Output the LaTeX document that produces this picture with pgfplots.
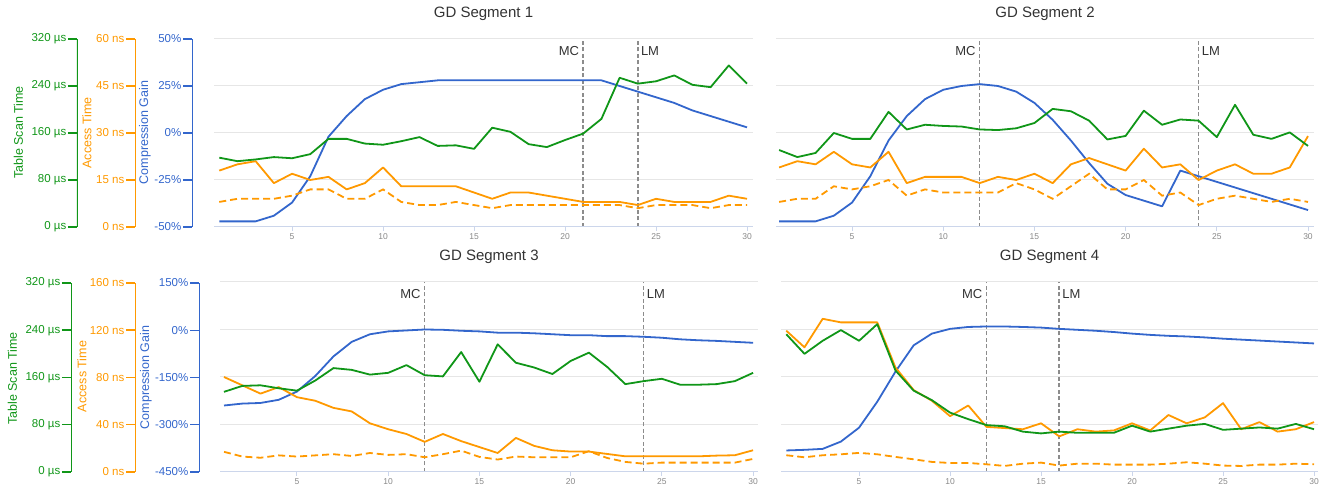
\documentclass[border=0pt]{standalone}
\usepackage{fontspec}
\setmainfont{Liberation Sans}
\usepackage{pgfplots}
\usepackage{pgfplotstable}
\pgfplotsset{compat=1.18}

\definecolor{cblue}{HTML}{3366CC}
\definecolor{corange}{HTML}{FF9900}
\definecolor{cgreen}{HTML}{109618}
\definecolor{gridc}{HTML}{E6E6E6}
\definecolor{axisc}{HTML}{CCD6EB}
\definecolor{tickc}{HTML}{888888}
\definecolor{vlinec}{HTML}{8C8C8C}
\definecolor{textc}{HTML}{333333}

% k, compression gain (%), access time (ns), access time dashed (ns), table scan time (us)
\pgfplotstableread{
k gain acc accd scan
1 -47 18 8 118
2 -47 20 9 112
3 -47 21 9 115
4 -44 14 9 119
5 -37 17 10 117
6 -23 15 12 124
7 -2 16 12 150
8 9 12 9 150
9 18 14 9 142
10 23 19 12 140
11 26 13 8 146
12 27 13 7 153
13 28 13 7 138
14 28 13 8 139
15 28 11 7 133
16 28 9 6 169
17 28 11 7 162
18 28 11 7 141
19 28 10 7 136
20 28 9 7 148
21 28 8 7 159
22 28 8 7 184
23 25 8 7 254
24 22 7 6 244
25 19 9 7 248
26 16 8 7 258
27 12 8 7 242
28 9 8 6 238
29 6 10 7 275
30 3 9 7 244
}\segA

\pgfplotstableread{
k gain acc accd scan
1 -47 19 8 131
2 -47 21 9 119
3 -47 20 9 126
4 -44 24 13 160
5 -37 20 12 150
6 -23 19 13 150
7 -4 24 15 196
8 9 14 10 166
9 18 16 12 174
10 23 16 11 172
11 25 16 11 171
12 26 14 11 166
13 25 16 11 165
14 22 15 14 168
15 16 17 12 177
16 7 14 9 201
17 -4 20 13 197
18 -16 22 17 181
19 -27 20 12 149
20 -33 18 12 155
21 -36 25 15 198
22 -39 19 10 174
23 -20 20 11 183
24 -23 15 7 181
25 -26 18 9 153
26 -29 20 10 208
27 -32 17 9 157
28 -35 17 8 150
29 -38 19 9 161
30 -41 29 8 138
}\segB

\pgfplotstableread{
k gain acc accd scan
1 -240 80 17 135
2 -234 73 13 145
3 -232 66 12 146
4 -222 71.5 14 141
5 -196 63 13 137
6 -147 60 14 154
7 -85 54 15 175
8 -39 51 13.5 172
9 -15 41 16 164
10 -6 36 14.4 167
11 -3 32 15 180
12 0 25.4 12.4 163
13 -1 32 15 161
14 -4 26 18 202
15 -6 21 12.7 152
16 -10 16 10.5 215
17 -10 28.7 13 184
18 -12 22 12.4 176
19 -15 18.3 12.4 165
20 -18 17.2 12.4 187
21 -18 17.2 17.5 201
22 -21 15.2 11.8 177
23 -21 13.2 8.5 148
24 -23 13.2 7 153
25 -26 13.2 7.9 157
26 -31 13.2 7.9 147
27 -34 13.2 7.9 147
28 -36 13.8 7.9 148
29 -39 14.1 7.9 153
30 -42 18.3 11 167
}\segC

\pgfplotstableread{
k gain acc accd scan
1 -382 119 14.1 232
2 -380 105 12.4 199
3 -377 129 14.1 221
4 -354 126 14.9 239
5 -310 126 16.1 221
6 -228 126 14.9 249
7 -133 88 12.7 171
8 -50 69 10.7 137
9 -13 60 8.5 121
10 2 47 7.6 100
11 8 56 7.6 89
12 9.5 38 6.5 79
13 9.5 37 5.1 77
14 8 36 7 68
15 6 41 7.9 65
16 2 30 5.4 68
17 -1 36 7 66
18 -4 34 7 66
19 -8 35 6.2 66
20 -13 41 6.2 78
21 -17 35 6.2 68
22 -20 48 7 73
23 -22 41 8.2 78
24 -25 46 7 81
25 -29 58 5.4 71
26 -32 36 5.1 73
27 -35 42 6.2 75
28 -38 34 6.2 73
29 -41 36 7 81
30 -44 42 6.5 72
}\segD

\pgfplotsset{
  panel/.style={scale only axis, anchor=south west},
  base/.style={panel,
    axis line style={draw=none},
    ymajorgrids, grid style={gridc, line width=1pt},
    xtick={5,10,...,30}, xtick pos=bottom, tick align=outside,
    major tick length=4pt,
    xtick style={axisc, line width=1pt},
    ytick style={draw=none}, yticklabels={},
    /pgf/number format/assume math mode=true,
    xticklabel style={font=\fontsize{8.5}{10}\selectfont, text=tickc, inner sep=2pt},
    title style={at={(0.5,1)}, anchor=base, yshift=15pt,
      font=\fontsize{15}{18}\selectfont, text=textc},
  },
  over/.style={panel, hide x axis, hide y axis},
  leftax/.style={scale only axis, anchor=south west, width=10pt,
    xmin=0, xmax=1, hide x axis, axis line style={draw=none},
    ytick pos=left, tick align=outside, major tick length=9pt,
    yticklabel style={font=\fontsize{11.5}{13}\selectfont, inner sep=1.5pt}},
  gainline/.style={cblue, line width=1.8pt, mark=none, line join=round},
  accline/.style={corange, line width=1.8pt, mark=none, line join=round},
  accdline/.style={corange, line width=1.8pt, mark=none, dash pattern=on 7pt off 4pt},
  scanline/.style={cgreen, line width=1.8pt, mark=none, line join=round},
  vline/.style={vlinec, line width=1.5pt, dash pattern=on 4pt off 2.5pt, mark=none, forget plot},
}
\tikzset{mlabel/.style={inner sep=0pt, font=\fontsize{13}{15}\selectfont, text=textc, yshift=-17pt}}

\begin{document}
\begin{tikzpicture}
\useasboundingbox (0pt,0pt) rectangle (1322pt,489pt);

% ---------- left axes, top row ----------
\begin{axis}[leftax, at={(77pt,262pt)}, height=188pt, ymin=0, ymax=320,
  ytick={0,80,160,240,320}, yticklabels={0 µs,80 µs,160 µs,240 µs,320 µs},
  ytick style={cgreen, line width=1.5pt}, yticklabel style={text=cgreen}]
\draw[cgreen, line width=1.5pt] (rel axis cs:0,0) -- (rel axis cs:0,1);
\end{axis}
\begin{axis}[leftax, at={(135pt,262pt)}, height=188pt, ymin=0, ymax=60,
  ytick={0,15,30,45,60}, yticklabels={0 ns,15 ns,30 ns,45 ns,60 ns},
  ytick style={corange, line width=1.5pt}, yticklabel style={text=corange}]
\draw[corange, line width=1.5pt] (rel axis cs:0,0) -- (rel axis cs:0,1);
\end{axis}
\begin{axis}[leftax, at={(192pt,262pt)}, height=188pt, ymin=-50, ymax=50,
  ytick={-50,-25,0,25,50}, yticklabels={-50\%,-25\%,0\%,25\%,50\%},
  ytick style={cblue, line width=1.5pt}, yticklabel style={text=cblue}]
\draw[cblue, line width=1.5pt] (rel axis cs:0,0) -- (rel axis cs:0,1);
\end{axis}
\node[rotate=90, inner sep=0pt, text=cgreen, font=\fontsize{12.5}{15}\selectfont] at (18.5pt,356.5pt) {Table Scan Time};
\node[rotate=90, inner sep=0pt, text=corange, font=\fontsize{12.5}{15}\selectfont] at (87pt,356pt) {Access Time};
\node[rotate=90, inner sep=0pt, text=cblue, font=\fontsize{12.5}{15}\selectfont] at (145pt,356.5pt) {Compression Gain};

% ---------- left axes, bottom row ----------
\begin{axis}[leftax, at={(71pt,17pt)}, height=189pt, ymin=0, ymax=320,
  ytick={0,80,160,240,320}, yticklabels={0 µs,80 µs,160 µs,240 µs,320 µs},
  ytick style={cgreen, line width=1.5pt}, yticklabel style={text=cgreen}]
\draw[cgreen, line width=1.5pt] (rel axis cs:0,0) -- (rel axis cs:0,1);
\end{axis}
\begin{axis}[leftax, at={(135pt,17pt)}, height=189pt, ymin=0, ymax=160,
  ytick={0,40,80,120,160}, yticklabels={0 ns,40 ns,80 ns,120 ns,160 ns},
  ytick style={corange, line width=1.5pt}, yticklabel style={text=corange}]
\draw[corange, line width=1.5pt] (rel axis cs:0,0) -- (rel axis cs:0,1);
\end{axis}
\begin{axis}[leftax, at={(199pt,17pt)}, height=189pt, ymin=-450, ymax=150,
  ytick={-450,-300,-150,0,150}, yticklabels={-450\%,-300\%,-150\%,0\%,150\%},
  ytick style={cblue, line width=1.5pt}, yticklabel style={text=cblue}]
\draw[cblue, line width=1.5pt] (rel axis cs:0,0) -- (rel axis cs:0,1);
\end{axis}
\node[rotate=90, inner sep=0pt, text=cgreen, font=\fontsize{12.5}{15}\selectfont] at (12.5pt,110.5pt) {Table Scan Time};
\node[rotate=90, inner sep=0pt, text=corange, font=\fontsize{12.5}{15}\selectfont] at (82pt,112.5pt) {Access Time};
\node[rotate=90, inner sep=0pt, text=cblue, font=\fontsize{12.5}{15}\selectfont] at (146pt,111.5pt) {Compression Gain};

% ---------- GD Segment 1 ----------
\begin{axis}[base, at={(214pt,262pt)}, width=539pt, height=188pt,
  xmin=0.71, xmax=30.33, ymin=-50, ymax=50, ytick={-50,-25,0,25,50},
  title={GD Segment 1}]
\addplot[vline] coordinates {(21,-50) (21,50)};
\addplot[vline] coordinates {(24,-50) (24,50)};
\node[mlabel, anchor=base east, xshift=-4pt] at (axis cs:21,50) {MC};
\node[mlabel, anchor=base west, xshift=3pt] at (axis cs:24,50) {LM};
\draw[axisc, line width=1pt] (rel axis cs:0,0) -- (rel axis cs:1,0);
\addplot[gainline] table[x=k, y=gain] {\segA};
\end{axis}
\begin{axis}[over, at={(214pt,262pt)}, width=539pt, height=188pt,
  xmin=0.71, xmax=30.33, ymin=0, ymax=60]
\addplot[accdline] table[x=k, y=accd] {\segA};
\addplot[accline] table[x=k, y=acc] {\segA};
\end{axis}
\begin{axis}[over, at={(214pt,262pt)}, width=539pt, height=188pt,
  xmin=0.71, xmax=30.33, ymin=0, ymax=320]
\addplot[scanline] table[x=k, y=scan] {\segA};
\end{axis}

% ---------- GD Segment 2 ----------
\begin{axis}[base, at={(776pt,262pt)}, width=538pt, height=188pt,
  xmin=0.83, xmax=30.33, ymin=-50, ymax=50, ytick={-50,-25,0,25,50},
  title={GD Segment 2}]
\addplot[vline] coordinates {(12,-50) (12,50)};
\addplot[vline] coordinates {(24,-50) (24,50)};
\node[mlabel, anchor=base east, xshift=-4pt] at (axis cs:12,50) {MC};
\node[mlabel, anchor=base west, xshift=3pt] at (axis cs:24,50) {LM};
\draw[axisc, line width=1pt] (rel axis cs:0,0) -- (rel axis cs:1,0);
\addplot[gainline] table[x=k, y=gain] {\segB};
\end{axis}
\begin{axis}[over, at={(776pt,262pt)}, width=538pt, height=188pt,
  xmin=0.83, xmax=30.33, ymin=0, ymax=60]
\addplot[accdline] table[x=k, y=accd] {\segB};
\addplot[accline] table[x=k, y=acc] {\segB};
\end{axis}
\begin{axis}[over, at={(776pt,262pt)}, width=538pt, height=188pt,
  xmin=0.83, xmax=30.33, ymin=0, ymax=320]
\addplot[scanline] table[x=k, y=scan] {\segB};
\end{axis}

% ---------- GD Segment 3 ----------
\begin{axis}[base, at={(220pt,17pt)}, width=538pt, height=190pt,
  xmin=0.78, xmax=30.27, ymin=-450, ymax=150, ytick={-450,-300,-150,0,150},
  title={GD Segment 3}]
\addplot[vline] coordinates {(12,-450) (12,150)};
\addplot[vline] coordinates {(24,-450) (24,150)};
\node[mlabel, anchor=base east, xshift=-4pt] at (axis cs:12,150) {MC};
\node[mlabel, anchor=base west, xshift=3pt] at (axis cs:24,150) {LM};
\draw[axisc, line width=1pt] (rel axis cs:0,0) -- (rel axis cs:1,0);
\addplot[gainline] table[x=k, y=gain] {\segC};
\end{axis}
\begin{axis}[over, at={(220pt,17pt)}, width=538pt, height=190pt,
  xmin=0.78, xmax=30.27, ymin=0, ymax=160]
\addplot[accdline] table[x=k, y=accd] {\segC};
\addplot[accline] table[x=k, y=acc] {\segC};
\end{axis}
\begin{axis}[over, at={(220pt,17pt)}, width=538pt, height=190pt,
  xmin=0.78, xmax=30.27, ymin=0, ymax=320]
\addplot[scanline] table[x=k, y=scan] {\segC};
\end{axis}

% ---------- GD Segment 4 ----------
\begin{axis}[base, at={(781pt,17pt)}, width=537pt, height=190pt,
  xmin=0.71, xmax=30.22, ymin=-450, ymax=150, ytick={-450,-300,-150,0,150},
  title={GD Segment 4}]
\addplot[vline] coordinates {(12,-450) (12,150)};
\addplot[vline] coordinates {(16,-450) (16,150)};
\node[mlabel, anchor=base east, xshift=-4pt] at (axis cs:12,150) {MC};
\node[mlabel, anchor=base west, xshift=3pt] at (axis cs:16,150) {LM};
\draw[axisc, line width=1pt] (rel axis cs:0,0) -- (rel axis cs:1,0);
\addplot[gainline] table[x=k, y=gain] {\segD};
\end{axis}
\begin{axis}[over, at={(781pt,17pt)}, width=537pt, height=190pt,
  xmin=0.71, xmax=30.22, ymin=0, ymax=160]
\addplot[accdline] table[x=k, y=accd] {\segD};
\addplot[accline] table[x=k, y=acc] {\segD};
\end{axis}
\begin{axis}[over, at={(781pt,17pt)}, width=537pt, height=190pt,
  xmin=0.71, xmax=30.22, ymin=0, ymax=320]
\addplot[scanline] table[x=k, y=scan] {\segD};
\end{axis}
\end{tikzpicture}
\end{document}
